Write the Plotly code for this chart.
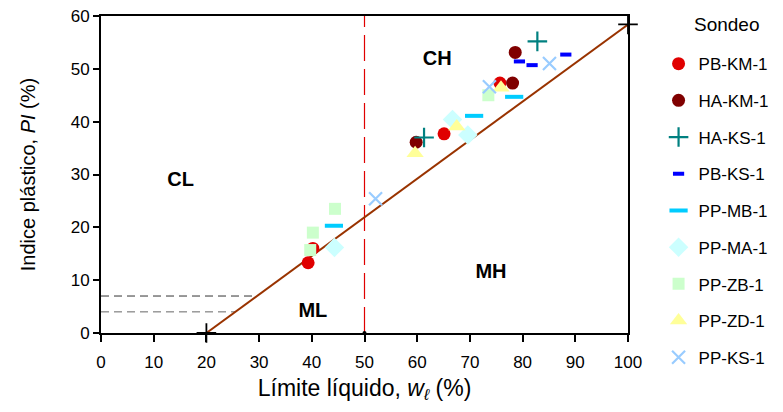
import plotly.graph_objects as go

# Plasticity chart (Casagrande): liquid limit vs plasticity index per borehole
series = [
    # name, liquid limit (%), plasticity index (%)
    ("PB-KM-1", [39.3, 40.2, 65.1, 75.7], [13.3, 16.0, 37.7, 47.3]),
    ("HA-KM-1", [59.8, 78.6, 78.1], [36.1, 53.1, 47.3]),
    ("HA-KS-1", [61.3, 82.8], [37.0, 55.2]),
    ("PB-KS-1", [79.4, 81.8, 88.2], [51.4, 50.7, 52.7]),
    ("PP-MB-1", [44.2, 70.8, 78.4], [20.3, 41.1, 44.7]),
    ("PP-MA-1", [44.3, 66.7, 69.6], [16.2, 40.4, 37.5]),
    ("PP-ZB-1", [39.7, 40.2, 44.4, 73.5], [15.7, 19.0, 23.5, 45.0]),
    ("PP-ZD-1", [59.6, 67.5, 75.9], [34.0, 39.1, 46.4]),
    ("PP-KS-1", [52.1, 73.7, 85.1], [25.4, 46.6, 51.0]),
]

styles = {
    "PB-KM-1": dict(symbol="circle", size=13, color="#E00000"),
    "HA-KM-1": dict(symbol="circle", size=13, color="#800000"),
    "HA-KS-1": dict(symbol="cross-thin", size=14, color="#008080", line=dict(width=2.2, color="#008080")),
    "PB-KS-1": dict(symbol="line-ew", size=8, color="#0000FF", line=dict(width=4, color="#0000FF")),
    "PP-MB-1": dict(symbol="line-ew", size=13, color="#00CCFF", line=dict(width=4, color="#00CCFF")),
    "PP-MA-1": dict(symbol="diamond", size=15, color="#CCFFFF"),
    "PP-ZB-1": dict(symbol="square", size=12, color="#CCFFCC"),
    "PP-ZD-1": dict(symbol="triangle-up", size=15, color="#FFFF99"),
    "PP-KS-1": dict(symbol="x-thin", size=13, color="#99CCFF", line=dict(width=2.2, color="#99CCFF")),
}

# A-line: PI = 0.73 (wL - 20)
a_line_x = [20, 100]
a_line_y = [0, 58.4]
# CL-ML band limits
band_pi = [7, 4]
band_wl = [29.6, 25.5]
# vertical boundary at wL = 50
wl_boundary = 50

zone_labels = ["CL", "CH", "MH", "ML"]
zone_x = [15.1, 63.8, 74.0, 40.2]
zone_y = [28.7, 51.7, 11.4, 4.0]

fig = go.Figure()

fig.add_trace(go.Scatter(
    x=[wl_boundary, wl_boundary], y=[0, 60], mode="lines",
    line=dict(color="#E00000", width=1.2, dash="26px,8px"),
    showlegend=False, hoverinfo="skip"))
fig.add_trace(go.Scatter(
    x=[wl_boundary], y=[0], mode="markers",
    marker=dict(symbol="circle", size=4, color="black"),
    showlegend=False, hoverinfo="skip", cliponaxis=False))

for pi, wl, col in zip(band_pi, band_wl, ["#333333", "#666666"]):
    fig.add_trace(go.Scatter(
        x=[0, wl], y=[pi, pi], mode="lines",
        line=dict(color=col, width=1, dash="8px,5px"),
        showlegend=False, hoverinfo="skip"))

fig.add_trace(go.Scatter(
    x=a_line_x, y=a_line_y, mode="lines+markers",
    line=dict(color="#993300", width=2),
    marker=dict(symbol="cross-thin", size=14, color="black", line=dict(width=1.8, color="black")),
    showlegend=False, hoverinfo="skip", cliponaxis=False))

for i, (name, xs, ys) in enumerate(series):
    st = dict(styles[name])
    line = st.pop("line", dict(width=0))
    fig.add_trace(go.Scatter(
        x=xs, y=ys, mode="markers", name=name, legendgroup=f"g{i}",
        marker=dict(**st, line=line), cliponaxis=False))

fig.add_trace(go.Scatter(
    x=zone_x, y=zone_y, mode="text", text=zone_labels,
    textfont=dict(family="Liberation Sans", size=20, color="black"),
    texttemplate="<b>%{text}</b>", showlegend=False, hoverinfo="skip"))

axis_common = dict(
    showline=True, linecolor="black", linewidth=2, mirror=True,
    ticks="outside", tickcolor="black", tickwidth=1.5,
    showgrid=False, zeroline=False,
)

fig.add_annotation(
    text="Sondeo", xref="paper", yref="paper", x=1.188, y=0.972,
    xanchor="center", yanchor="middle", showarrow=False,
    font=dict(family="Liberation Sans", size=19, color="black"))

fig.update_layout(
    width=783, height=412,
    margin=dict(l=101, r=155, t=16, b=79, autoexpand=False),
    paper_bgcolor="white", plot_bgcolor="white",
    font=dict(family="Liberation Sans", color="black"),
    xaxis=dict(range=[0, 100], tickvals=list(range(0, 101, 10)),
               ticklen=7, ticklabelstandoff=6,
               tickfont=dict(family="Liberation Sans", size=17),
               title=dict(text="Límite líquido, <i>w</i><sub><i>ℓ</i></sub> (%)",
                          font=dict(family="Liberation Sans", size=23),
                          standoff=8),
               **axis_common),
    yaxis=dict(range=[0, 60], tickvals=list(range(0, 61, 10)),
               ticklen=6,
               tickfont=dict(family="Liberation Sans", size=17),
               title=dict(text="Indice plástico, <i>PI</i> (%)",
                          font=dict(size=20), standoff=30),
               **axis_common),
    legend=dict(
        x=1.058, y=0.905, xanchor="left", yanchor="top",
        font=dict(family="Liberation Sans", size=17),
        tracegroupgap=11.6, itemwidth=30, bgcolor="rgba(0,0,0,0)",
        maxheight=400,
    ),
)

fig.write_html("out.html")
